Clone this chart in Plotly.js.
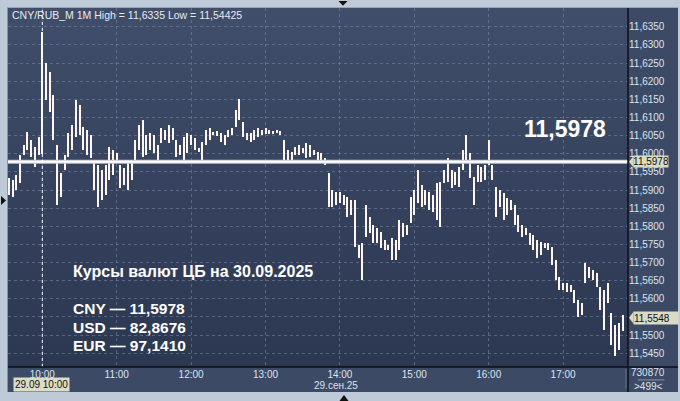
<!DOCTYPE html>
<html>
<head>
<meta charset="utf-8">
<script src="https://cdn.plot.ly/plotly-3.0.1.min.js"></script>
<style>
  html, body { margin:0; padding:0; background:#bfcad8; width:680px; height:401px; overflow:hidden; }
  #panel { position:absolute; left:7px; top:7px; width:671px; height:385px; background:#3c4a66; border-left:1px solid #8a94a4; border-top:1px solid #9aa4b4; box-sizing:border-box; }
  #grad { position:absolute; left:8px; top:8px; width:620px; height:359px; background:linear-gradient(#404e6a, #2c3751); }
  #chart { position:absolute; left:0; top:0; width:680px; height:401px; }
</style>
</head>
<body>
<div id="panel"></div>
<div id="grad"></div>
<div id="chart"></div>
<script>
// ---- data (1 bar = 3 minutes, starting 09:33 on 29.09.2025) ----
const startTime = '2025-09-29T09:33:00';
const stepMinutes = 3;
const highs = [
11.5933,11.5928,11.5941,11.5996,11.6024,11.6060,11.6038,11.6019,11.6046,11.6335,
11.6250,11.6225,11.6162,11.6024,11.5947,11.5996,11.6057,11.6079,11.6148,11.6134,
11.6074,11.6065,11.6051,11.5983,11.5969,11.5955,11.5969,11.6019,11.6010,11.6002,
11.5969,11.5961,11.5983,11.5983,11.6038,11.6079,11.6093,11.6051,11.6057,11.6051,
11.6024,11.6071,11.6065,11.6079,11.6071,11.6038,11.6024,11.6046,11.6057,11.6051,
11.6043,11.6016,11.6032,11.6065,11.6071,11.6060,11.6063,11.6057,11.6051,11.6065,
11.6071,11.6120,11.6151,11.6087,11.6057,11.6057,11.6065,11.6071,11.6065,11.6071,
11.6065,11.6063,11.6065,11.6063,11.6038,11.6010,11.6005,11.6019,11.6024,11.6016,
11.6030,11.6024,11.6010,11.6005,11.6002,11.5988,11.5947,11.5900,11.5894,11.5894,
11.5886,11.5881,11.5872,11.5872,11.5748,11.5754,11.5859,11.5826,11.5804,11.5795,
11.5784,11.5762,11.5748,11.5768,11.5762,11.5817,11.5809,11.5804,11.5881,11.5900,
11.5955,11.5914,11.5900,11.5894,11.5886,11.5919,11.5922,11.5955,11.5988,11.5955,
11.5950,11.5963,11.6010,11.6051,11.6002,11.5936,11.5969,11.5963,11.5969,11.6038,
11.5969,11.5908,11.5900,11.5892,11.5878,11.5872,11.5859,11.5831,11.5804,11.5795,
11.5781,11.5776,11.5762,11.5757,11.5754,11.5754,11.5743,11.5707,11.5660,11.5644,
11.5644,11.5638,11.5624,11.5597,11.5589,11.5699,11.5688,11.5679,11.5671,11.5633,
11.5624,11.5644,11.5561,11.5528,11.5533,11.5555
];
const lows = [
11.5886,11.5881,11.5900,11.5919,11.5996,11.6010,11.5991,11.5963,11.5996,11.6000,
11.6148,11.6115,11.6038,11.5859,11.5881,11.5955,11.5991,11.6010,11.6046,11.6051,
11.6010,11.5996,11.5988,11.5900,11.5853,11.5872,11.5886,11.5928,11.5941,11.5974,
11.5905,11.5914,11.5900,11.5928,11.5983,11.6010,11.5991,11.5996,11.6010,11.6002,
11.5983,11.6030,11.6038,11.6030,11.6038,11.5991,11.5996,11.5983,11.6002,11.6024,
11.6010,11.6005,11.5977,11.6024,11.6038,11.6052,11.6049,11.6032,11.6024,11.6046,
11.6052,11.6074,11.6093,11.6046,11.6038,11.6032,11.6038,11.6046,11.6052,11.6054,
11.6054,11.6054,11.6057,11.6052,11.5974,11.5977,11.5983,11.5996,11.5996,11.6002,
11.5988,11.5991,11.5996,11.5977,11.5983,11.5969,11.5853,11.5853,11.5859,11.5864,
11.5859,11.5826,11.5831,11.5743,11.5713,11.5652,11.5770,11.5781,11.5754,11.5754,
11.5740,11.5735,11.5735,11.5707,11.5707,11.5735,11.5770,11.5776,11.5809,11.5831,
11.5864,11.5853,11.5859,11.5845,11.5839,11.5817,11.5798,11.5919,11.5922,11.5905,
11.5914,11.5908,11.5955,11.5983,11.5933,11.5859,11.5922,11.5922,11.5928,11.5969,
11.5928,11.5826,11.5853,11.5817,11.5831,11.5845,11.5804,11.5784,11.5770,11.5776,
11.5748,11.5735,11.5713,11.5721,11.5740,11.5735,11.5693,11.5652,11.5624,11.5624,
11.5619,11.5619,11.5589,11.5550,11.5555,11.5644,11.5657,11.5652,11.5633,11.5569,
11.5514,11.5589,11.5473,11.5442,11.5459,11.5510
];
const refRate = 11.5978;
const lastPrice = 11.5548;
const yTicks = [11.5450,11.5500,11.5550,11.5600,11.5650,11.5700,11.5750,11.5800,11.5850,11.5900,11.5950,11.6000,11.6050,11.6100,11.6150,11.6200,11.6250,11.6300,11.6350];
const yTickText = ['11,5450','11,5500','','11,5600','11,5650','11,5700','11,5750','11,5800','11,5850','11,5900','11,5950','11,6000','11,6050','11,6100','11,6150','11,6200','11,6250','11,6300','11,6350'];
const xTicks = ['2025-09-29 10:00','2025-09-29 11:00','2025-09-29 12:00','2025-09-29 13:00','2025-09-29 14:00','2025-09-29 15:00','2025-09-29 16:00','2025-09-29 17:00'];
const xTickText = ['10:00','11:00','12:00','13:00','14:00','15:00','16:00','17:00'];
const cursorTime = '2025-09-29 10:00';
const titleText = 'CNY/RUB_M 1M High = 11,6335 Low = 11,54425';
const headline = 'Курсы валют ЦБ на 30.09.2025';
const rateLines = ['CNY — 11,5978', 'USD — 82,8676', 'EUR — 97,1410'];
const bigLabel = '11,5978';
const dateLabel = '29.сен.25';
const cursorLabel = '29.09 10:00';
const countTop = '730870';
const countBottom = '>499<';

// ---- build ----
function pad(n){ return (n<10?'0':'')+n; }
const t0 = new Date(startTime + 'Z').getTime();
const times = highs.map((_, i) => {
  const d = new Date(t0 + i*stepMinutes*60000);
  return d.getUTCFullYear()+'-'+pad(d.getUTCMonth()+1)+'-'+pad(d.getUTCDate())+' '+pad(d.getUTCHours())+':'+pad(d.getUTCMinutes());
});
const spans = highs.map((h, i) => h - lows[i]);

const FONT = '"Liberation Sans", Arial, sans-serif';
const light = '#dde3ee';

const trace = {
  type: 'bar', x: times, y: spans, base: lows,
  width: 1.6*60000,
  marker: { color: '#fff6ef', line: { width: 0 } },
  hoverinfo: 'skip', showlegend: false
};

const ann = [];
ann.push({ xref:'paper', yref:'paper', x:0.0032, y:0.9805, xanchor:'left', yanchor:'middle', showarrow:false,
  text:titleText, font:{ family:FONT, size:10.5, color:'#e6eaf2' } });
ann.push({ xref:'paper', yref:'paper', x:0.9677, y:0.662, xanchor:'right', yanchor:'middle', showarrow:false,
  text:'<b>'+bigLabel+'</b>', font:{ family:FONT, size:23, color:'#ffffff' } });
ann.push({ xref:'paper', yref:'paper', x:0.1016, y:0.265, xanchor:'left', yanchor:'middle', showarrow:false,
  text:'<b>'+headline+'</b>', font:{ family:FONT, size:16, color:'#ffffff' } });
const lineY = [0.164, 0.110, 0.0585];
rateLines.forEach((s, k) => ann.push({ xref:'paper', yref:'paper', x:0.1016, y:lineY[k], xanchor:'left', yanchor:'middle', showarrow:false,
  text:'<b>'+s+'</b>', font:{ family:FONT, size:15.5, color:'#ffffff' } }));
// y label boxes
ann.push({ xref:'paper', yref:'y', x:1.0081, y:refRate, xanchor:'left', yanchor:'middle', showarrow:false,
  text:'11,5978', bgcolor:'#d9dbc4', borderpad:0, width:34, height:11, font:{ family:FONT, size:10, color:'#111' } });
ann.push({ xref:'paper', yref:'y', x:1.0081, y:lastPrice, xanchor:'left', yanchor:'middle', showarrow:false,
  text:'11,5548', bgcolor:'#d9dbc4', borderpad:0, width:44, height:12, align:'left', font:{ family:FONT, size:10, color:'#111' } });
// bottom texts
ann.push({ xref:'paper', yref:'paper', x:0.0548, y:-0.0501, xanchor:'center', yanchor:'middle', showarrow:false,
  text:cursorLabel, bgcolor:'#dcdcc6', borderpad:1, font:{ family:FONT, size:10, color:'#111' } });
ann.push({ xref:'paper', yref:'paper', x:0.5298, y:-0.0529, xanchor:'center', yanchor:'middle', showarrow:false,
  text:dateLabel, font:{ family:FONT, size:10, color:light } });
ann.push({ xref:'paper', yref:'paper', x:1.0323, y:-0.0167, xanchor:'center', yanchor:'middle', showarrow:false,
  text:countTop, font:{ family:FONT, size:10, color:light } });
ann.push({ xref:'paper', yref:'paper', x:1.0323, y:-0.0543, xanchor:'center', yanchor:'middle', showarrow:false,
  text:countBottom, font:{ family:FONT, size:10, color:light } });

const shapes = [
  // reference rate line
  { type:'line', xref:'paper', yref:'y', x0:0, x1:1, y0:refRate, y1:refRate, line:{ color:'#c4c9d3', width:4 } },
  { type:'line', xref:'paper', yref:'y', x0:0, x1:1, y0:refRate, y1:refRate, line:{ color:'#ffffff', width:2 } },
  // cursor line
  { type:'line', xref:'x', yref:'paper', x0:cursorTime, x1:cursorTime, y0:0, y1:1, line:{ color:'#ffffff', width:1, dash:'dot' } },
  // label pointers
  { type:'path', xref:'paper', yref:'y', path:'M 1.0016,'+refRate+' L 1.0090,'+(refRate+0.0016)+' L 1.0090,'+(refRate-0.0016)+' Z', fillcolor:'#d9dbc4', line:{ width:0 } },
  { type:'path', xref:'paper', yref:'y', path:'M 1.0016,'+lastPrice+' L 1.0090,'+(lastPrice+0.0017)+' L 1.0090,'+(lastPrice-0.0017)+' Z', fillcolor:'#d9dbc4', line:{ width:0 } },
  // axis frame extensions
  { type:'line', xref:'paper', yref:'paper', x0:0, x1:1.0806, y0:0, y1:0, line:{ color:'#0d0f14', width:1.5 } },
  { type:'line', xref:'paper', yref:'paper', x0:1, x1:1, y0:1, y1:-0.0696, line:{ color:'#0d0f14', width:1.5 } },
  { type:'line', xref:'paper', yref:'paper', x0:0.9968, x1:0.9968, y0:-0.005, y1:-0.06, line:{ color:'#66728a', width:1 } },
  { type:'line', xref:'paper', yref:'paper', x0:1.0157, x1:1.0587, y0:-0.036, y1:-0.036, line:{ color:'#8a96ac', width:1 } },
  // small markers
  { type:'path', xref:'paper', yref:'paper', path:'M 0.5331,1.0195 L 0.5476,1.0195 L 0.5403,1.0060 Z', fillcolor:'#111', line:{ width:0 } },
  { type:'path', xref:'paper', yref:'paper', path:'M 0.5347,-0.0947 L 0.5492,-0.0947 L 0.5419,-0.0780 Z', fillcolor:'#111', line:{ width:0 } },
  { type:'path', xref:'paper', yref:'paper', path:'M -0.0113,0.4763 L -0.0113,0.4513 L -0.0032,0.4638 Z', fillcolor:'#111', line:{ width:0 } }
];

const gridCol = 'rgba(120,138,170,0.55)';
const layout = {
  width: 680, height: 401,
  margin: { l:8, r:52, t:8, b:34 },
  paper_bgcolor: 'rgba(0,0,0,0)', plot_bgcolor: 'rgba(0,0,0,0)',
  separators: ', ',
  showlegend: false,
  bargap: 0,
  font: { family: FONT, color: light, size: 10 },
  xaxis: {
    type: 'date', range: ['2025-09-29 09:32:20', '2025-09-29 17:52:20'],
    tickvals: xTicks, ticktext: xTickText, ticks: '',
    showgrid: true, gridcolor: gridCol, griddash: '3px,3px', gridwidth: 1,
    showline: false, zeroline: false, fixedrange: true,
    tickfont: { family: FONT, size: 10, color: light }
  },
  yaxis: {
    side: 'right', range: [11.5412, 11.6402],
    tickvals: yTicks, ticktext: yTickText, ticks: '',
    showgrid: true, gridcolor: gridCol, griddash: '3px,3px', gridwidth: 1,
    showline: false, zeroline: false, fixedrange: true,
    tickfont: { family: FONT, size: 10, color: light }
  },
  annotations: ann,
  shapes: shapes
};

Plotly.newPlot('chart', [trace], layout, { staticPlot: true, displayModeBar: false });
</script>
</body>
</html>
